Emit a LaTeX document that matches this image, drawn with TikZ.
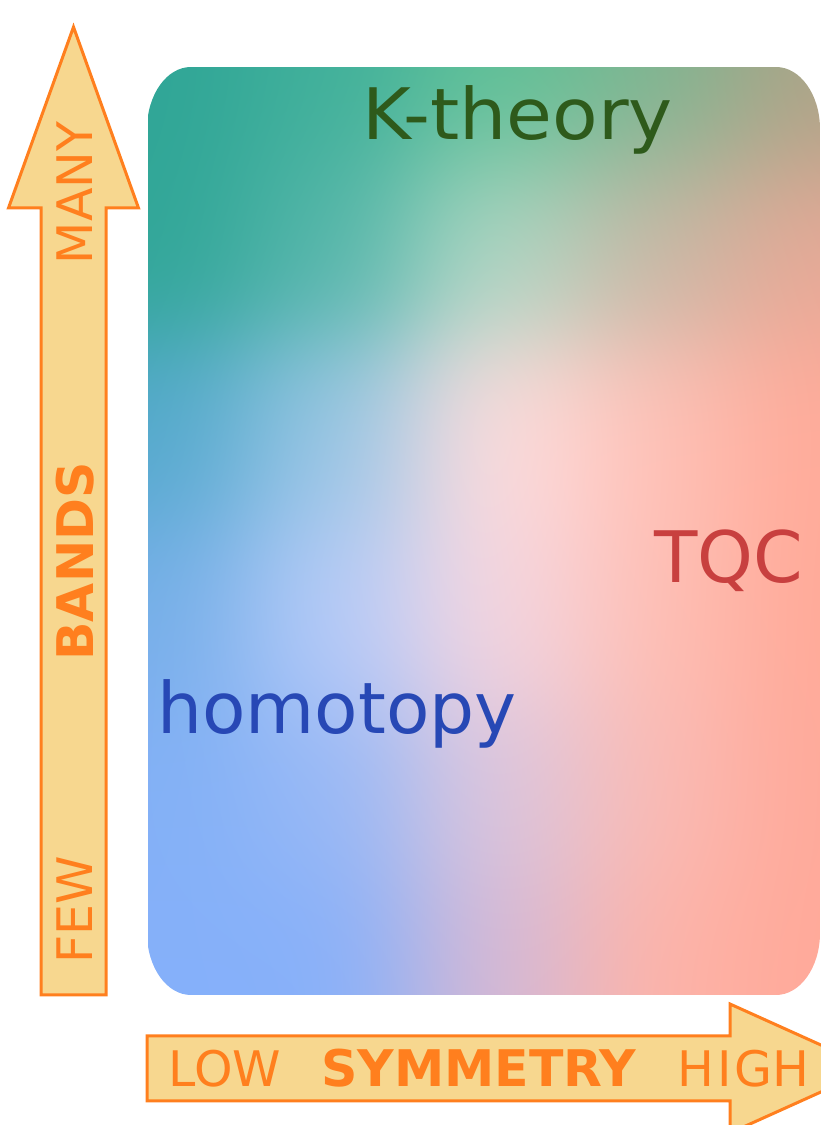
\documentclass[tikz,border=0pt]{standalone}
\usepackage{fontspec}
\setmainfont{DejaVu Sans}
\definecolor{arrowfill}{HTML}{F7D78F}
\definecolor{arroworange}{HTML}{FF7F1E}
\definecolor{kgreen}{HTML}{2E5A1B}
\definecolor{tqcred}{HTML}{C8403F}
\definecolor{homblue}{HTML}{2748B5}
\def\meshblob#1#2#3#4#5{5 index #1 sub dup mul 5 index #2 sub dup mul add 0.000078 mul neg 2.71828 exch exp exch 1 index add exch dup #5 mul 4 -1 roll add 3 1 roll dup #4 mul 5 -1 roll add 4 1 roll dup #3 mul 6 -1 roll add 5 1 roll pop }
\pgfdeclarefunctionalshading{bgmesh}{\pgfpoint{0bp}{0bp}}{\pgfpoint{673bp}{928bp}}{}{
0 0 0 0
\meshblob{18}{910}{0.184}{0.647}{0.588}
\meshblob{183}{910}{0.251}{0.690}{0.604}
\meshblob{353}{910}{0.361}{0.753}{0.584}
\meshblob{513}{910}{0.478}{0.710}{0.565}
\meshblob{663}{910}{0.675}{0.635}{0.525}
\meshblob{18}{750}{0.188}{0.651}{0.592}
\meshblob{183}{750}{0.333}{0.714}{0.667}
\meshblob{353}{750}{0.700}{0.850}{0.780}
\meshblob{513}{750}{0.790}{0.720}{0.651}
\meshblob{663}{750}{0.918}{0.659}{0.588}
\meshblob{18}{560}{0.322}{0.659}{0.800}
\meshblob{183}{560}{0.596}{0.776}{0.902}
\meshblob{353}{560}{1.0}{0.870}{0.870}
\meshblob{513}{560}{1.0}{0.760}{0.720}
\meshblob{663}{560}{1.0}{0.663}{0.592}
\meshblob{18}{385}{0.455}{0.682}{0.910}
\meshblob{183}{385}{0.720}{0.800}{0.980}
\meshblob{353}{385}{0.960}{0.840}{0.880}
\meshblob{513}{385}{0.996}{0.750}{0.710}
\meshblob{663}{385}{1.0}{0.659}{0.588}
\meshblob{18}{205}{0.510}{0.690}{0.965}
\meshblob{183}{205}{0.588}{0.722}{0.965}
\meshblob{353}{205}{0.860}{0.775}{0.870}
\meshblob{513}{205}{0.980}{0.735}{0.710}
\meshblob{663}{205}{1.0}{0.659}{0.596}
\meshblob{18}{25}{0.522}{0.690}{0.980}
\meshblob{183}{25}{0.525}{0.690}{0.980}
\meshblob{353}{25}{0.831}{0.722}{0.839}
\meshblob{513}{25}{0.996}{0.706}{0.659}
\meshblob{663}{25}{1.0}{0.659}{0.596}
4 1 roll 3 index div 3 1 roll 3 index div 3 1 roll 3 index div 3 1 roll 6 3 roll pop pop pop
}
\tikzset{
  arrowshape/.style={fill=arrowfill, draw=arroworange, line width=3bp, line join=miter},
  axislabel/.style={text=arroworange, font=\fontsize{49bp}{59bp}\selectfont, inner sep=0},
  axisbold/.style={text=arroworange, font=\fontsize{50.5bp}{60bp}\selectfont\bfseries, inner sep=0},
  bigword/.style={font=\fontsize{71bp}{85bp}\selectfont, inner sep=0}
}
\begin{document}
\begin{tikzpicture}[x=1bp,y=1bp]
\useasboundingbox (0,0) rectangle (821,1125);
\clip (0,0) rectangle (821,1125);
% rounded background panel with mesh-like gradient
\begin{scope}
\clip (191,130) -- (776,130) arc[start angle=270, end angle=360, x radius=44, y radius=62]
  -- (820,996) arc[start angle=0, end angle=90, x radius=44, y radius=62]
  -- (191,1058) arc[start angle=90, end angle=180, x radius=44, y radius=62]
  -- (147,192) arc[start angle=180, end angle=270, x radius=44, y radius=62] -- cycle;
\node[inner sep=0, outer sep=0, anchor=south west] (panel) at (147,130) {\pgfuseshading{bgmesh}};
\end{scope}
% axes arrows
\draw[arrowshape] (41,130) -- (41,917) -- (8.5,917) -- (73.5,1098) -- (138.5,917) -- (106,917) -- (106,130) -- cycle;
\draw[arrowshape] (147,89) -- (730,89) -- (730,121) -- (873,56.5) -- (730,-8) -- (730,24) -- (147,24) -- cycle;
% axis labels
\node[axislabel, rotate=90, anchor=base] (many) at (92,932) {MANY};
\node[axisbold, rotate=90, anchor=base] (bands) at (93,563.5) {BANDS};
\node[axislabel, rotate=90, anchor=base] (few) at (92,215) {FEW};
\node[axislabel, anchor=base] (low) at (225,38) {LOW};
\node[axisbold, anchor=base] (sym) at (479,38) {SYMMETRY};
\node[axislabel, anchor=base] (high) at (743.5,38) {H\kern3bp I\kern3bp GH};
% region labels
\node[bigword, text=kgreen, anchor=base, xscale=1.05] (kth) at (517.5,985) {K-theory};
\node[bigword, text=tqcred, anchor=base] (tqc) at (729,542) {TQC};
\node[bigword, text=homblue, anchor=base] (hom) at (337,391) {homotopy};
\end{tikzpicture}
\end{document}
